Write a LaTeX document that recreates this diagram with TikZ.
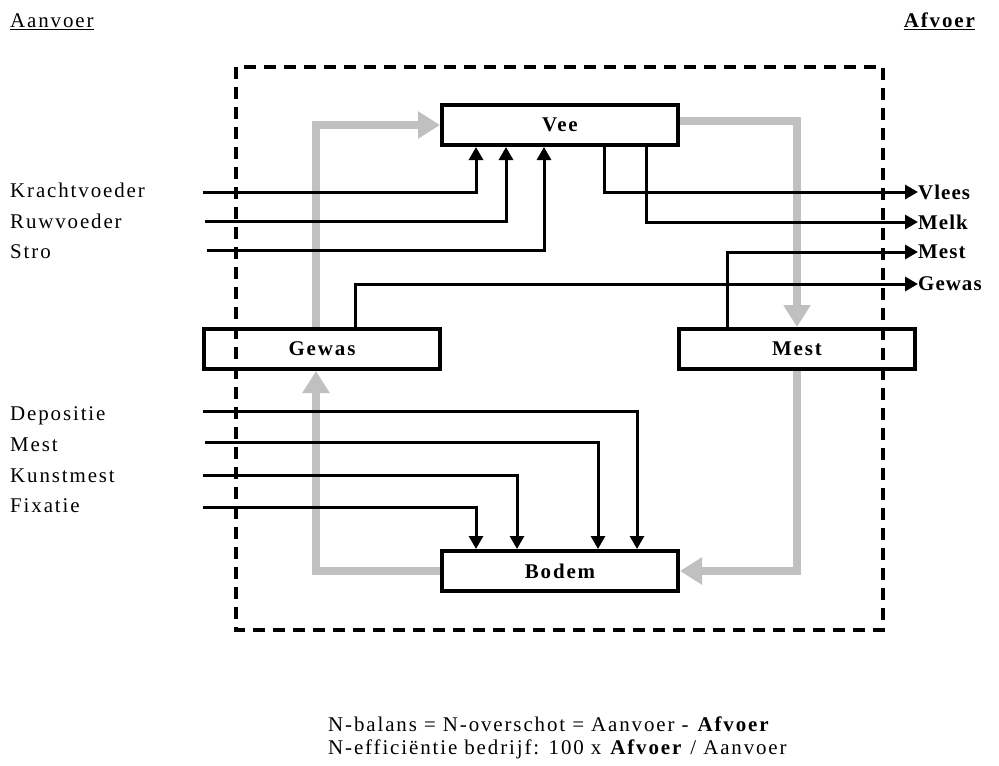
\documentclass[tikz,border=0pt]{standalone}
\usepackage{fontspec}
\setmainfont{Liberation Serif}[LetterSpace=9]
\usetikzlibrary{arrows.meta,positioning}
\definecolor{flowgray}{RGB}{192,192,192}
\newcommand{\diagfont}{\fontsize{21}{24}\selectfont}
\tikzset{block/.style={draw,line width=4bp,minimum width=236bp,minimum height=40bp,inner sep=0pt,font=\diagfont\bfseries}}
\tikzset{flow/.style={draw=flowgray,line width=8bp,-{Triangle[length=22bp,width=26bp]}}}
\tikzset{feed/.style={line width=3bp,-{Triangle[length=13bp,width=14bp]}}}
\tikzset{lbl/.style={anchor=base west,inner sep=0pt}}
\tikzset{outlbl/.style={anchor=west,inner sep=0pt,font=\diagfont\bfseries\addfontfeatures{LetterSpace=5}}}

\begin{document}
\begin{tikzpicture}[
x = 1bp, y = -1bp, % pixel grid of the reference
font = \diagfont
]
\useasboundingbox (0,0) rectangle (999,766);

% system border
\draw[line width=4bp,dash pattern=on 12bp off 8bp] (236,67) rectangle (883,630);

% headers
\node[lbl] (aanvoer) at (10,28) {\underline{Aanvoer}};
\node[anchor=base east,inner sep=0pt] (afvoer) at (975,28) {\bfseries\underline{Afvoer}};

% compartments
\node[block] (vee) at (560,125) {Vee};
\node[block] (gewas) at (322,349) {Gewas};
\node[block] (mest) at (797,349) {Mest};
\node[block] (bodem) at (560,571) {Bodem};

% internal cycle
\draw[flow] ([xshift=-6bp]gewas.north) |- (vee.west);
\draw[flow] ([yshift=4bp]vee.east) -| (mest.north);
\draw[flow] (mest.south) |- (bodem.east);
\draw[flow] (bodem.west) -| ([xshift=-6bp]gewas.south);

% inputs
\node[lbl] (l-kracht) at (10,197) {Krachtvoeder};
\node[lbl] (l-ruw) at (10,228) {Ruwvoeder};
\node[lbl] (l-stro) at (10,258) {Stro};
\node[lbl] (l-depo) at (10,420) {Depositie};
\node[lbl] (l-mest) at (10,451) {Mest};
\node[lbl] (l-kunst) at (10,482) {Kunstmest};
\node[lbl] (l-fix) at (10,512) {Fixatie};

\coordinate (c-kracht) at (203,192);
\coordinate (c-ruw) at (205,221);
\coordinate (c-stro) at (207,250);
\coordinate (c-depo) at (203,411);
\coordinate (c-mest) at (205,442);
\coordinate (c-kunst) at (203,475);
\coordinate (c-fix) at (203,507);

\draw[feed] (c-kracht) -| ([xshift=-84bp]vee.south);
\draw[feed] (c-ruw) -| ([xshift=-54bp]vee.south);
\draw[feed] (c-stro) -| ([xshift=-16bp]vee.south);
\draw[feed] (c-depo) -| ([xshift=77bp]bodem.north);
\draw[feed] (c-mest) -| ([xshift=38bp]bodem.north);
\draw[feed] (c-kunst) -| ([xshift=-43bp]bodem.north);
\draw[feed] (c-fix) -| ([xshift=-84bp]bodem.north);

% outputs
\node[outlbl] (r-vlees) at (918,192) {Vlees};
\node[outlbl] (r-melk) at (918,222) {Melk};
\node[outlbl] (r-mest) at (918,252) {Mest};
\node[outlbl] (r-gewas) at (918,284) {Gewas};

\draw[feed] ([xshift=44bp]vee.south) |- (r-vlees.west);
\draw[feed] ([xshift=86bp]vee.south) |- (r-melk.west);
\draw[feed] ([xshift=-70bp]mest.north) |- (r-mest.west);
\draw[feed] ([xshift=33bp]gewas.north) |- (r-gewas.west);

% balance
\node[lbl] (balans) at (328,731) {N-balans = N-overschot = Aanvoer - \textbf{Afvoer}};
\node[lbl] (effic) at (328,754) {N-efficiëntie bedrijf: 100 x \textbf{Afvoer} / Aanvoer};
\end{tikzpicture}
\end{document}
